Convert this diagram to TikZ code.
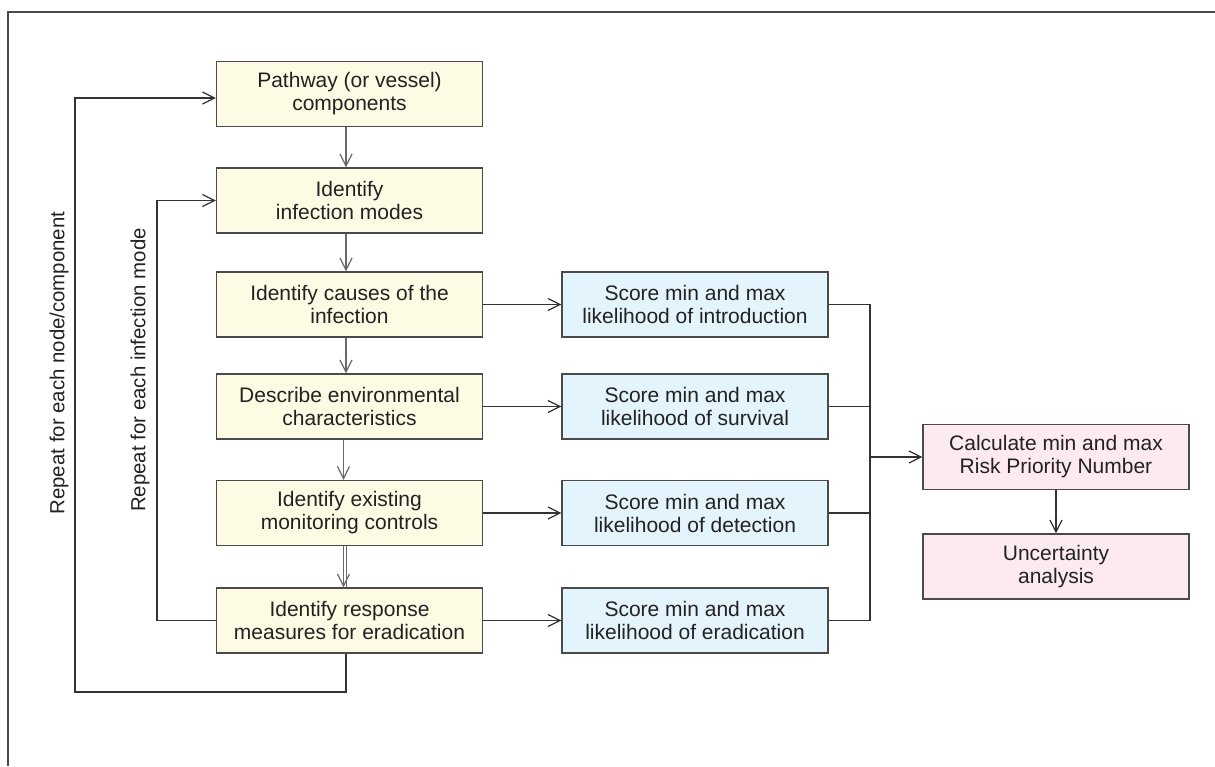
\documentclass[tikz,border=0pt]{standalone}
\usepackage{fontspec}
\setmainfont{Liberation Sans}
\usetikzlibrary{arrows.meta,calc}

\definecolor{stepfill}{HTML}{FDFBE3}
\definecolor{scorefill}{HTML}{E4F4FC}
\definecolor{riskfill}{HTML}{FCEAF0}
\definecolor{edgegrey}{HTML}{4A4A4A}
\definecolor{linegrey}{HTML}{333333}
\definecolor{flowgrey}{HTML}{6A6A6A}
\definecolor{textgrey}{HTML}{222222}

\tikzset{
  box/.style={draw=edgegrey, line width=0.7pt, minimum width=133pt,
    minimum height=32.5pt, inner sep=0pt, align=center, text=textgrey,
    font=\fontsize{10.5pt}{11.5pt}\selectfont},
  stepbox/.style={box, fill=stepfill},
  scorebox/.style={box, fill=scorefill},
  riskbox/.style={box, fill=riskfill},
  tip/.style={-{Straight Barb[length=6pt,width=6pt,line width=0.6pt]}},
  link/.style={draw=linegrey, line width=0.65pt},
  flow/.style={draw=flowgrey, line width=0.6pt},
  looplabel/.style={rotate=90, text=textgrey, inner sep=0pt,
    font=\fontsize{10.2pt}{11.5pt}\selectfont}
}

\begin{document}
\begin{tikzpicture}[x=0.5pt, y=-0.5pt]
  \useasboundingbox (0,0) rectangle (1215,766);

  % frame (top and left edges)
  \draw[draw=edgegrey, line width=0.8pt] (8,766) -- (8,12) -- (1215,12);

  % main column of steps
  \node[stepbox] (y1) at (349.5,94)    {Pathway (or vessel)\\components};
  \node[stepbox] (y2) at (349.5,200.5) {Identify\\infection modes};
  \node[stepbox] (y3) at (349.5,304.5) {Identify causes of the\\infection};
  \node[stepbox] (y4) at (349.5,406.5) {Describe environmental\\characteristics};
  \node[stepbox] (y5) at (349.5,513)   {Identify existing\\monitoring controls};
  \node[stepbox] (y6) at (349.5,620.5) {Identify response\\measures for eradication};

  % scoring column
  \node[scorebox] (b3) at (695,304.5) {Score min and max\\likelihood of introduction};
  \node[scorebox] (b4) at (695,406.5) {Score min and max\\likelihood of survival};
  \node[scorebox] (b5) at (695,513)   {Score min and max\\likelihood of detection};
  \node[scorebox] (b6) at (695,620.5) {Score min and max\\likelihood of eradication};

  % risk column
  \node[riskbox] (r1) at (1056,457)   {Calculate min and max\\Risk Priority Number};
  \node[riskbox] (r2) at (1056,566.5) {Uncertainty\\analysis};

  % loop labels
  \node[looplabel] (lo) at (59,363)  {Repeat for each node/component};
  \node[looplabel] (li) at (140,370) {Repeat for each infection mode};

  % downward flow between steps
  \draw[flow,tip] ([xshift=-1.75pt]y1.south) -- ([xshift=-1.75pt]y2.north);
  \draw[flow,tip] ([xshift=-1.75pt]y2.south) -- ([xshift=-1.75pt]y3.north);
  \draw[flow,tip] ([xshift=-1.75pt]y3.south) -- ([xshift=-1.75pt]y4.north);
  \draw[flow,tip] ([xshift=-3pt]y4.south) -- ([xshift=-3pt]y5.north);
  \draw[flow,tip] ([xshift=-3pt]y5.south) -- ([xshift=-3pt]y6.north);
  \draw[flow] ([xshift=-1.5pt]y5.south) -- ([xshift=-1.5pt]y6.north);

  % steps to scores
  \draw[link,tip] (y3.east) -- (b3.west);
  \draw[link,tip] (y4.east) -- (b4.west);
  \draw[link,tip] (y5.east) -- (b5.west);
  \draw[link,tip] (y6.east) -- (b6.west);

  % scores gathered into the risk number
  \coordinate (bus) at (870,457);
  \draw[link] (b3.east) -| (bus |- b6.east) -- (b6.east);
  \draw[link] (b4.east) -- (b4.east -| bus);
  \draw[link] (b5.east) -- (b5.east -| bus);
  \draw[link,tip] (bus) -- (r1.west);
  \draw[link,tip] (r1) -- (r2);

  % repeat loops
  \coordinate (outerlow) at (75,692);
  \coordinate (outertop) at (75,98);
  \draw[link,tip] ([xshift=-1.75pt]y6.south) |- (outerlow)
    -- (outertop) -- (outertop -| y1.west);
  \coordinate (innerx) at (157,0);
  \draw[link,tip] (y6.west) -- (y6.west -| innerx) -- (innerx |- y2.west)
    -- (y2.west);
\end{tikzpicture}
\end{document}
